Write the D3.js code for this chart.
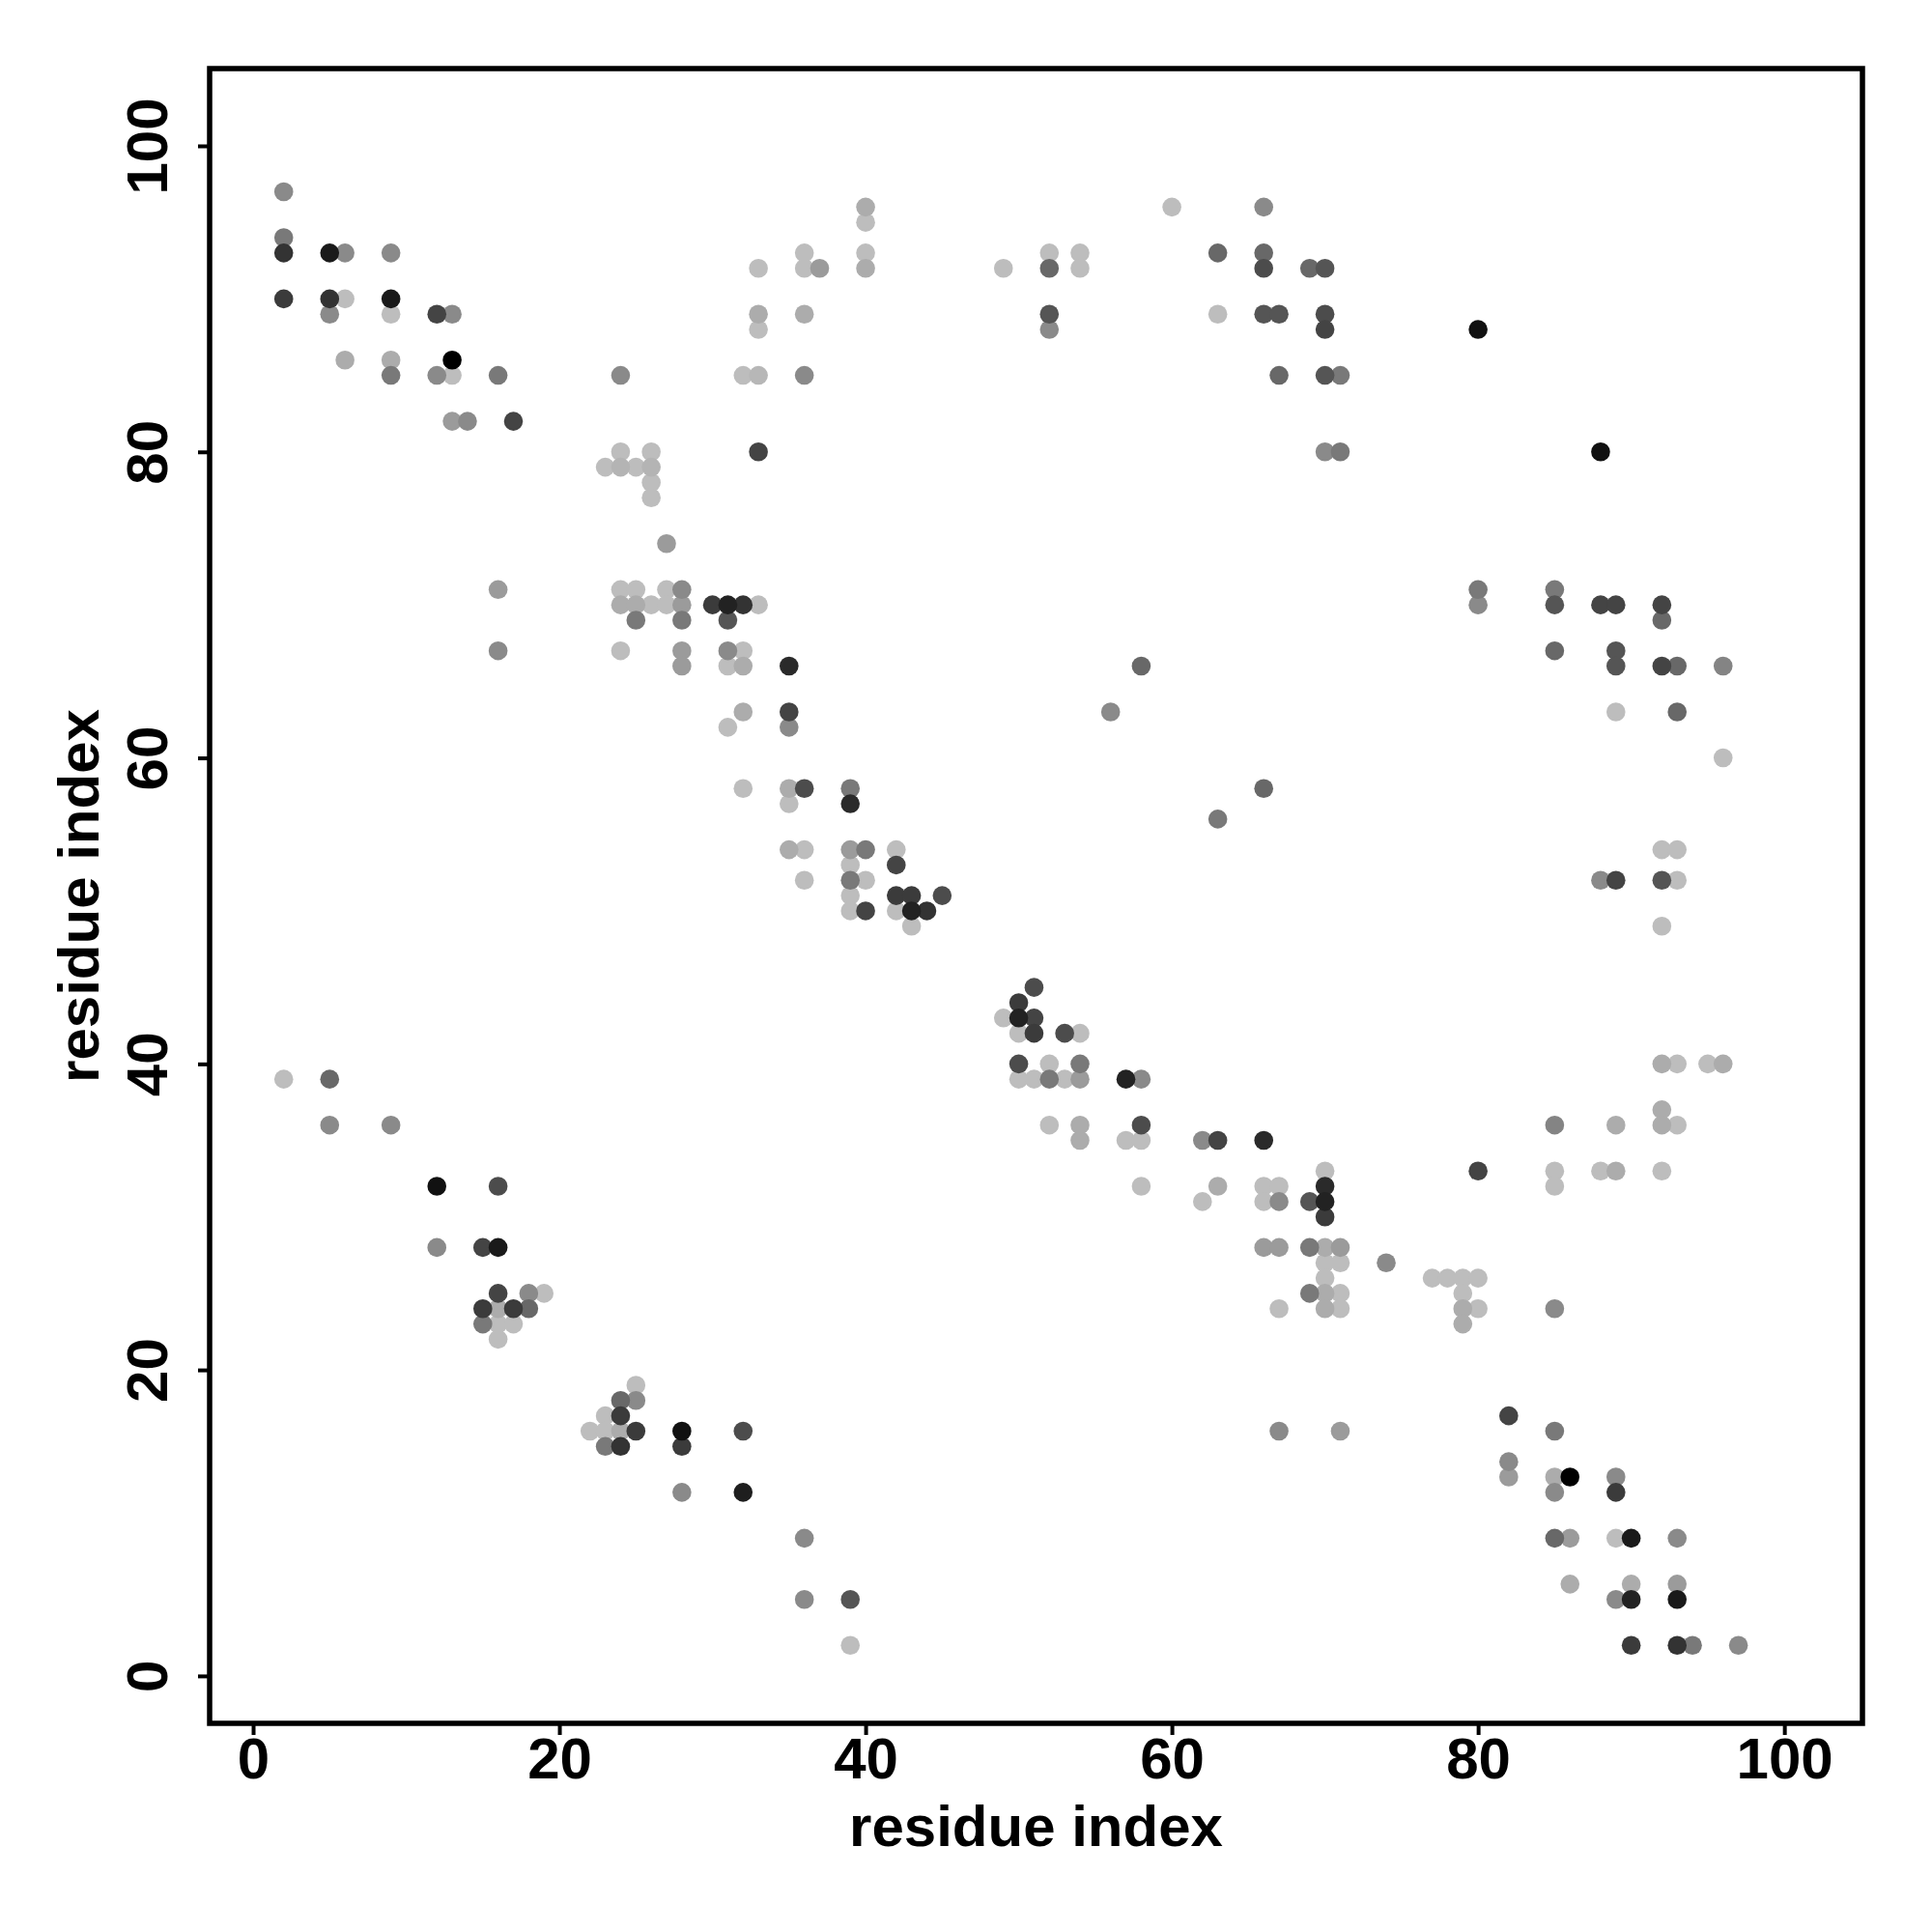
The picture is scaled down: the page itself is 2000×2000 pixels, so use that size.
<!DOCTYPE html>
<html>
<head>
<meta charset="utf-8">
<script src="https://cdn.jsdelivr.net/npm/d3@7"></script>
<style>
  html, body { margin: 0; padding: 0; background: #ffffff; }
  svg { display: block; }
</style>
</head>
<body>
<script>
// ---- data: contact pairs (residue i, residue j) and contact strength ----
const contactI = [
  2,2,2,2,5,6,9,5,6,5,9,9,12,13,6,9,9,13,12,13,16,13,14,17,
  23,24,24,25,26,26,26,26,24,32,33,33,33,33,36,36,37,36,36,40,40,40,40,49,33,
  52,52,54,54,60,63,66,66,66,69,70,52,52,63,66,67,70,70,67,70,71,70,71,80,88,
  16,16,27,24,25,27,28,24,25,26,27,28,25,28,30,31,32,33,31,24,28,28,31,32,31,32,35,32,31,35,35,32,35,36,39,35,39,58,56,66,63,
  35,36,36,39,40,39,39,40,39,39,40,42,42,42,43,45,42,43,44,43,
  51,50,49,50,51,50,51,53,54,50,52,54,50,51,52,53,54,57,58,52,54,54,58,57,58,58,
  80,80,85,85,88,89,92,92,85,89,89,92,93,96,89,93,96,92,93,88,89,92,93,92,92,93,95,96,92,92,93,85,89,85,85,88,89,92,
  2,5,5,9,12,16,12,15,16,16,18,19,15,16,17,18,15,16,17,16,25,24,25,23,24,22,23,24,25,23,24,28,28,32,28,32,36,36,39,39,
  62,63,66,70,63,62,66,67,66,67,69,70,70,70,66,67,69,70,71,70,71,70,69,70,71,67,70,71,74,80,77,78,79,80,79,79,80,79,67,71,85,
  82,85,82,82,85,86,85,89,89,85,86,89,90,93,86,90,89,90,93,93,90,93,94,97
];
const contactJ = [
  97,94,93,90,93,93,93,90,90,89,90,89,89,89,86,86,85,86,85,85,85,82,82,82,
  79,80,79,79,80,79,78,77,85,85,85,92,89,88,93,92,92,89,85,96,95,93,92,92,80,
  93,92,93,92,96,93,96,93,92,92,92,89,88,89,89,89,89,88,85,85,85,80,80,88,80,
  71,67,74,71,71,71,71,70,70,70,70,70,69,69,70,70,70,70,69,67,67,66,67,67,66,66,66,63,62,63,62,58,58,58,58,57,57,66,63,58,56,
  54,54,52,54,54,53,52,52,51,50,50,54,53,51,51,51,50,50,50,49,
  45,44,43,43,43,42,42,42,42,40,40,40,39,39,39,39,39,39,39,36,36,35,36,35,35,32,
  71,70,71,70,70,70,70,69,67,67,66,66,66,66,63,63,60,54,54,52,52,52,52,49,40,40,40,40,37,36,36,36,36,33,32,33,33,33,
  39,39,36,36,32,32,28,28,28,25,25,25,24,24,24,24,23,23,23,22,19,18,18,17,17,16,16,16,16,15,15,16,15,16,12,12,9,5,5,2,
  35,35,35,33,32,31,32,32,31,31,31,32,31,30,28,28,28,28,28,27,27,26,25,25,25,24,24,24,27,33,26,26,26,26,25,24,24,23,16,16,24,
  17,16,14,13,13,13,12,13,12,9,9,9,9,9,6,6,5,5,6,5,2,2,2,2
];
const contactScore = [
  0.27,0.36,0.73,0.69,0.86,0.27,0.27,0.73,0.00,0.27,0.86,0.00,0.64,0.27,0.09,0.09,0.36,1.00,0.27,0.00,0.36,0.18,0.27,0.64,
  0.00,0.00,0.05,0.00,0.00,0.05,0.00,0.00,0.27,0.00,0.03,0.00,0.09,0.00,0.00,0.00,0.18,0.09,0.27,0.09,0.00,0.00,0.09,0.00,0.64,
  0.00,0.45,0.00,0.00,0.00,0.45,0.27,0.45,0.60,0.45,0.55,0.55,0.27,0.00,0.55,0.55,0.60,0.64,0.45,0.55,0.36,0.27,0.36,0.91,0.91,
  0.18,0.27,0.18,0.00,0.00,0.00,0.27,0.09,0.09,0.00,0.00,0.18,0.36,0.36,0.69,0.82,0.73,0.00,0.55,0.00,0.18,0.18,0.27,0.00,0.00,0.09,0.78,0.09,0.00,0.64,0.27,0.00,0.09,0.60,0.36,0.00,0.78,0.45,0.27,0.45,0.36,
  0.09,0.00,0.00,0.18,0.36,0.00,0.36,0.00,0.00,0.00,0.64,0.00,0.64,0.69,0.69,0.60,0.00,0.82,0.73,0.00,
  0.60,0.69,0.00,0.82,0.64,0.00,0.69,0.60,0.00,0.60,0.00,0.36,0.00,0.00,0.36,0.00,0.18,0.82,0.27,0.00,0.09,0.09,0.60,0.00,0.00,0.00,
  0.36,0.27,0.36,0.55,0.64,0.64,0.64,0.45,0.45,0.55,0.55,0.64,0.45,0.30,0.00,0.45,0.00,0.00,0.00,0.27,0.64,0.55,0.00,0.00,0.09,0.00,0.00,0.09,0.09,0.09,0.00,0.30,0.09,0.00,0.00,0.00,0.09,0.00,
  0.00,0.45,0.27,0.27,0.91,0.60,0.27,0.64,0.86,0.64,0.27,0.00,0.69,0.09,0.69,0.45,0.36,0.00,0.00,0.00,0.00,0.45,0.27,0.00,0.69,0.00,0.00,0.09,0.69,0.36,0.73,0.91,0.69,0.60,0.27,0.84,0.27,0.27,0.55,0.00,
  0.27,0.64,0.78,0.00,0.09,0.00,0.00,0.00,0.00,0.27,0.55,0.78,0.82,0.69,0.18,0.18,0.36,0.09,0.18,0.00,0.00,0.00,0.36,0.09,0.00,0.00,0.09,0.00,0.27,0.64,0.00,0.00,0.00,0.00,0.00,0.09,0.00,0.09,0.27,0.18,0.27,
  0.64,0.36,0.27,0.18,0.09,1.00,0.27,0.27,0.69,0.45,0.18,0.00,0.86,0.27,0.09,0.09,0.27,0.82,0.18,0.86,0.69,0.73,0.36,0.27
];
const xTicks = [0, 20, 40, 60, 80, 100];
const yTicks = [0, 20, 40, 60, 80, 100];
const xLabel = "residue index";
const yLabel = "residue index";

// ---- layout ----
const W = 2000, H = 2000;
const box = { left: 217, right: 1928, top: 71, bottom: 1784 };
const FONT = "'Liberation Sans', Arial, Helvetica, sans-serif";

const x = d3.scaleLinear().domain([-2.84, 105.1]).range([box.left, box.right]);
const y = d3.scaleLinear().domain([-3.1, 105.05]).range([box.bottom, box.top]);
const shade = d3.scaleLinear().domain([0, 1]).range(["#bdbdbd", "#000000"]);

const svg = d3.select("body").append("svg")
  .attr("width", W).attr("height", H)
  .style("background", "#ffffff");

const points = contactI.map((d, k) => ({ i: d, j: contactJ[k], s: contactScore[k] }))
  .sort((a, b) => a.s - b.s);

svg.append("g").selectAll("circle")
  .data(points)
  .join("circle")
  .attr("cx", d => x(d.i))
  .attr("cy", d => y(d.j))
  .attr("r", 9.8)
  .attr("fill", d => shade(d.s));

// axes
const xAxis = svg.append("g")
  .attr("transform", `translate(0,${box.bottom})`)
  .call(d3.axisBottom(x).tickValues(xTicks).tickSize(12).tickPadding(16).tickFormat(d3.format("d")));
const yAxis = svg.append("g")
  .attr("transform", `translate(${box.left},0)`)
  .call(d3.axisLeft(y).tickValues(yTicks).tickSize(12).tickFormat(d3.format("d")));

[xAxis, yAxis].forEach(g => {
  g.select(".domain").remove();
  g.selectAll(".tick line").attr("stroke", "#000").attr("stroke-width", 4);
  g.selectAll("text").attr("font-family", FONT).attr("font-weight", "bold")
    .attr("font-size", 60).attr("fill", "#000");
});
xAxis.selectAll("text").attr("dy", null).attr("y", null)
  .attr("transform", `translate(0,${1841 - box.bottom})`)
  .attr("dominant-baseline", "auto");
yAxis.selectAll("text")
  .attr("x", null).attr("dy", null).attr("text-anchor", "middle")
  .attr("transform", `translate(${173 - box.left},0) rotate(-90)`);

// box
svg.append("rect")
  .attr("x", box.left).attr("y", box.top)
  .attr("width", box.right - box.left).attr("height", box.bottom - box.top)
  .attr("fill", "none").attr("stroke", "#000").attr("stroke-width", 5.5);

// axis titles
svg.append("text")
  .attr("x", (box.left + box.right) / 2).attr("y", 1911)
  .attr("text-anchor", "middle")
  .attr("font-family", FONT).attr("font-weight", "bold").attr("font-size", 60)
  .text(xLabel);
svg.append("text")
  .attr("transform", `translate(102,${(box.top + box.bottom) / 2}) rotate(-90)`)
  .attr("text-anchor", "middle")
  .attr("font-family", FONT).attr("font-weight", "bold").attr("font-size", 60)
  .text(yLabel);
</script>
</body>
</html>
